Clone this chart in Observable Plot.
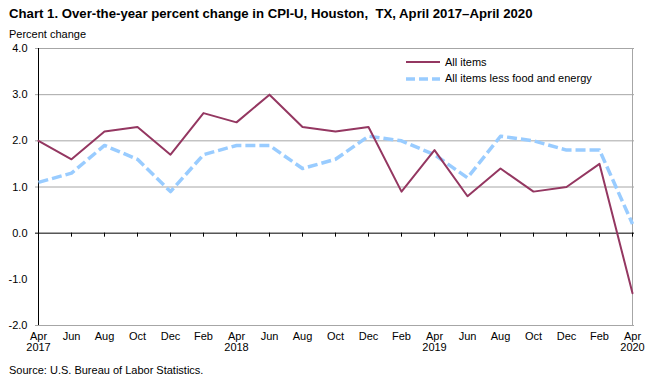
<!DOCTYPE html>
<html><head><meta charset="utf-8">
<script src="https://cdn.jsdelivr.net/npm/d3@7"></script>
<script src="https://cdn.jsdelivr.net/npm/@observablehq/plot@0.6"></script>
<style>
body{margin:0;background:#fff;font-family:"Liberation Sans",Arial,sans-serif;}
#wrap{position:relative;width:653px;height:385px;}
.t{position:absolute;white-space:pre;color:#000;}
</style></head><body>
<div id="wrap"></div>
<script>
const months = ["Apr","Jun","Aug","Oct","Dec","Feb","Apr","Jun","Aug","Oct","Dec","Feb","Apr","Jun","Aug","Oct","Dec","Feb","Apr"];
const years  = ["2017","","","","","","2018","","","","","","2019","","","","","","2020"];
const allItems = [2.0,1.6,2.2,2.3,1.7,2.6,2.4,3.0,2.3,2.2,2.3,0.9,1.8,0.8,1.4,0.9,1.0,1.5,-1.3];
const coreItems = [1.1,1.3,1.9,1.6,0.9,1.7,1.9,1.9,1.4,1.6,2.1,2.0,1.7,1.2,2.1,2.0,1.8,1.8,0.2];
const yTicks = [-2,-1,0,1,2,3,4];
const gridTicks = [1,2,3];
const seriesNames = ["All items","All items less food and energy"];
const titleText = "Chart 1. Over-the-year percent change in CPI-U, Houston,  TX, April 2017\u2013April 2020";
const yTitle = "Percent change";
const sourceText = "Source: U.S. Bureau of Labor Statistics.";

const idx = months.map((_, i) => i);
const dataA = idx.map(i => ({i, v: allItems[i]}));
const dataC = idx.map(i => ({i, v: coreItems[i]}));
const label = i => months[i] + (years[i] ? "\n" + years[i] : "");

const chart = Plot.plot({
  width: 653, height: 385,
  marginLeft: 35, marginRight: 19, marginTop: 48, marginBottom: 60,
  style: {fontFamily: "Liberation Sans, Arial, sans-serif", fontSize: "11px", background: "#fff", color: "#000"},
  x: {type: "point", domain: idx, padding: 0},
  y: {domain: [-2, 4]},
  marks: [
    Plot.ruleY(gridTicks, {stroke: "#a6a6a6", strokeWidth: 1}),
    Plot.ruleY([4, -2], {stroke: "#a6a6a6", strokeWidth: 1}),
    Plot.ruleX([idx[idx.length - 1]], {stroke: "#a6a6a6", strokeWidth: 1}),
    Plot.ruleX([idx[0]], {stroke: "#000", strokeWidth: 1}),
    Plot.ruleY([0], {stroke: "#000", strokeWidth: 1}),
    Plot.ruleX(idx, {x: d => d, y1: 0, y2: 0, insetBottom: -4, stroke: "#000"}),
    Plot.axisY({ticks: yTicks, tickSize: 0, tickPadding: 8, tickFormat: d => d.toFixed(1), label: null}),
    Plot.axisX({ticks: idx, tickSize: 0, tickPadding: 6, tickFormat: label, label: null, lineHeight: 1.05}),
    Plot.line(dataC, {x: "i", y: "v", stroke: "#99ccff", strokeWidth: 3.5, strokeDasharray: "10,4", strokeLinecap: "butt"}),
    Plot.line(dataA, {x: "i", y: "v", stroke: "#943761", strokeWidth: 2})
  ]
});
const wrap = document.getElementById("wrap");
wrap.appendChild(chart);

function addText(txt, x, y, css) {
  const d = document.createElement("div");
  d.className = "t"; d.textContent = txt;
  d.style.left = x + "px"; d.style.top = y + "px";
  Object.assign(d.style, css || {});
  wrap.appendChild(d);
}
addText(titleText, 9, 6, {fontWeight: "bold", fontSize: "13.2px"});
addText(yTitle, 9, 28, {fontSize: "11px"});
addText(sourceText, 9, 364, {fontSize: "11px"});

// legend
const svgNS = "http://www.w3.org/2000/svg";
const leg = document.createElementNS(svgNS, "svg");
leg.setAttribute("width", 36); leg.setAttribute("height", 30);
leg.style.position = "absolute"; leg.style.left = "405px"; leg.style.top = "56px";
const l1 = document.createElementNS(svgNS, "line");
l1.setAttribute("x1", 1); l1.setAttribute("x2", 35); l1.setAttribute("y1", 6); l1.setAttribute("y2", 6);
l1.setAttribute("stroke", "#943761"); l1.setAttribute("stroke-width", 2);
const l2 = document.createElementNS(svgNS, "line");
l2.setAttribute("x1", 1); l2.setAttribute("x2", 35); l2.setAttribute("y1", 23); l2.setAttribute("y2", 23);
l2.setAttribute("stroke", "#99ccff"); l2.setAttribute("stroke-width", 3.5); l2.setAttribute("stroke-dasharray", "9,4");
leg.appendChild(l1); leg.appendChild(l2);
wrap.appendChild(leg);
addText(seriesNames[0], 445, 56, {fontSize: "11px"});
addText(seriesNames[1], 445, 72, {fontSize: "11px"});
</script>
</body></html>
